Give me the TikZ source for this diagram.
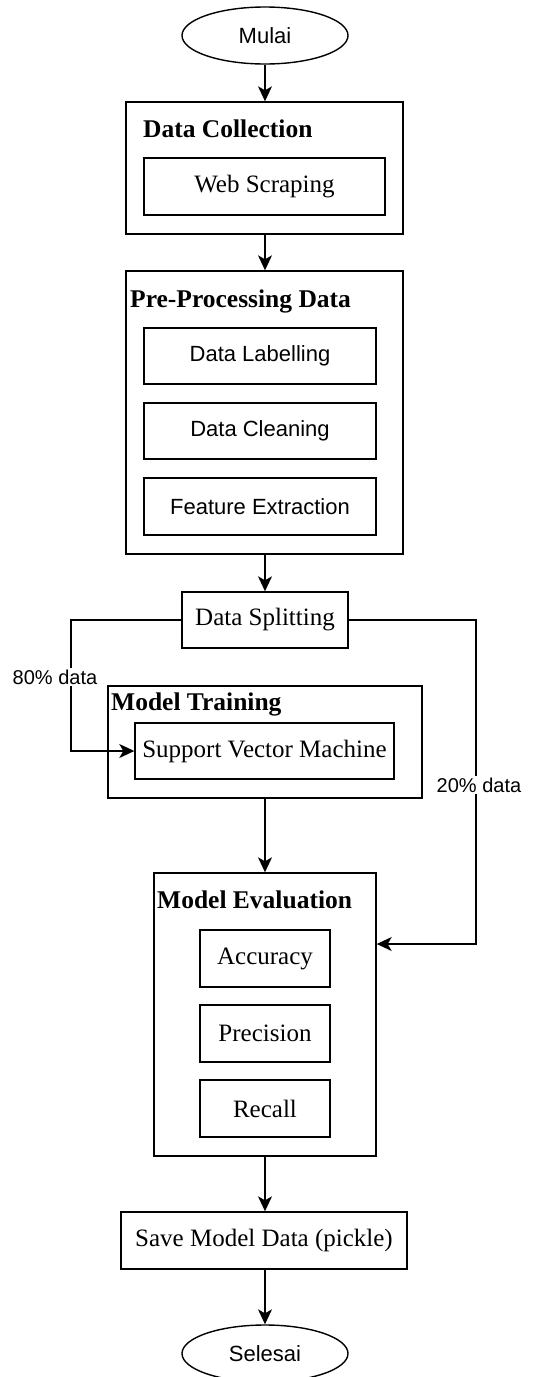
\documentclass[tikz,border=0pt]{standalone}
\usepackage{fontspec}
\setmainfont{Liberation Serif}
\setsansfont{Liberation Sans}
\usetikzlibrary{shapes.geometric,arrows.meta,calc}
\begin{document}
\begin{tikzpicture}[x=1pt,y=-1pt,
  box/.style={draw,line width=1.4pt,rectangle,inner sep=0pt},
  term/.style={draw,line width=1.4pt,ellipse,inner sep=0pt,minimum width=166pt,minimum height=57pt,font=\sffamily\fontsize{22}{26}\selectfont},
  sertxt/.style={font=\fontsize{25}{30}\selectfont},
  santxt/.style={font=\sffamily\fontsize{22}{26}\selectfont},
  ttl/.style={anchor=base west,inner sep=0pt,font=\bfseries\fontsize{25.5}{30}\selectfont},
  lbl/.style={fill=white,inner sep=2pt,font=\sffamily\fontsize{20}{24}\selectfont},
  arr/.style={line width=1.4pt,-{Stealth[length=15pt,width=14pt,inset=4pt]}},
  ln/.style={line width=1.4pt}
]
\useasboundingbox (0,0) rectangle (535,1377);
% terminals
\node[term] (mulai) at (265,35.5) {Mulai};
% Data Collection
\node[box,minimum width=277pt,minimum height=132pt] (dc) at (264.5,168) {};
\node[ttl] (dct) at (143,137) {Data Collection};
\node[box,sertxt,minimum width=241pt,minimum height=57pt] (ws) at (264.5,186.5) {Web Scraping};
% Pre-processing
\node[box,minimum width=277pt,minimum height=283pt] (pp) at (264.5,412.5) {};
\node[ttl] (ppt) at (130,307) {Pre-Processing Data};
\node[box,santxt,minimum width=232pt,minimum height=56pt] (dl) at (260,356) {Data Labelling};
\node[box,santxt,minimum width=232pt,minimum height=56pt] (dcl) at (260,431) {Data Cleaning};
\node[box,santxt,minimum width=232pt,minimum height=57pt] (fe) at (260,506.5) {Feature Extraction};
% Data splitting
\node[box,sertxt,minimum width=166pt,minimum height=56pt] (ds) at (265,620) {Data Splitting};
% Model training
\node[box,minimum width=314pt,minimum height=112pt] (mt) at (265,742) {};
\node[ttl] (mtt) at (111,710) {Model Training};
\node[box,sertxt,minimum width=259pt,minimum height=56pt] (svm) at (264.5,751) {Support Vector Machine};
% Model evaluation
\node[box,minimum width=222pt,minimum height=283pt] (me) at (265,1014.5) {};
\node[ttl] (met) at (157,908) {Model Evaluation};
\node[box,sertxt,minimum width=130pt,minimum height=57pt] (acc) at (265,958.5) {Accuracy};
\node[box,sertxt,minimum width=130pt,minimum height=57pt] (prec) at (265,1033.5) {Precision};
\node[box,sertxt,minimum width=130pt,minimum height=57pt] (rec) at (265,1108.5) {Recall};
% Save
\node[box,sertxt,minimum width=286pt,minimum height=57pt] (save) at (264,1240.5) {Save Model Data (pickle)};
\node[term] (selesai) at (265,1353.5) {Selesai};
% connectors
\draw[arr] (mulai.south) -- (mulai.south |- dc.north);
\draw[arr] (dc.south -| mulai.south) -- (mulai.south |- pp.north);
\draw[arr] (pp.south -| mulai.south) -- (ds.north);
\coordinate (l1) at (71,620);
\coordinate (l2) at (71,751);
\draw[arr] (ds.west) -- (l1) -- (l2) -- (svm.west);
\coordinate (r1) at (476,620);
\coordinate (r2) at (476,944);
\draw[arr] (ds.east) -- (r1) -- (r2) -- (r2 -| me.east);
\draw[arr] (mt.south) -- (me.north);
\draw[arr] (me.south) -- (me.south |- save.north);
\draw[arr] (me.south |- save.south) -- (selesai.north);
% labels
\node[lbl] (l80) at (55,677) {80\% data};
\node[lbl] (l20) at (479,785) {20\% data};
\end{tikzpicture}
\end{document}
